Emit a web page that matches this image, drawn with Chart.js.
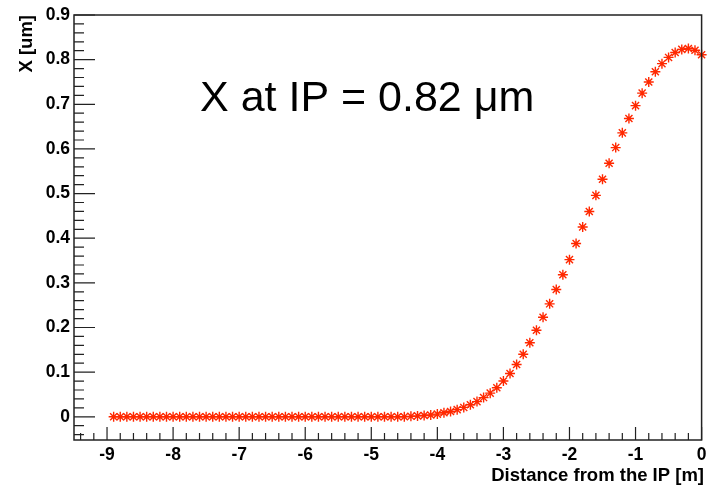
<!DOCTYPE html>
<html>
<head>
<meta charset="utf-8">
<script src="https://cdn.jsdelivr.net/npm/chart.js@4"></script>
<style>
  body { margin: 0; background: #fff; }
</style>
</head>
<body>
<canvas id="ip-x" width="708" height="487"></canvas>
<script>
// distance from the IP [m], one point every 0.1 m
const distances = [
  -8.9, -8.8, -8.7, -8.6, -8.5, -8.4, -8.3, -8.2, -8.1, -8.0,
  -7.9, -7.8, -7.7, -7.6, -7.5, -7.4, -7.3, -7.2, -7.1, -7.0,
  -6.9, -6.8, -6.7, -6.6, -6.5, -6.4, -6.3, -6.2, -6.1, -6.0,
  -5.9, -5.8, -5.7, -5.6, -5.5, -5.4, -5.3, -5.2, -5.1, -5.0,
  -4.9, -4.8, -4.7, -4.6, -4.5, -4.4, -4.3, -4.2, -4.1, -4.0,
  -3.9, -3.8, -3.7, -3.6, -3.5, -3.4, -3.3, -3.2, -3.1, -3.0,
  -2.9, -2.8, -2.7, -2.6, -2.5, -2.4, -2.3, -2.2, -2.1, -2.0,
  -1.9, -1.8, -1.7, -1.6, -1.5, -1.4, -1.3, -1.2, -1.1, -1.0,
  -0.9, -0.8, -0.7, -0.6, -0.5, -0.4, -0.3, -0.2, -0.1, 0.0
];
// X [um]
const xOffset = [
  0, 0, 0, 0, 0, 0, 0, 0, 0, 0,
  0, 0, 0, 0, 0, 0, 0, 0, 0, 0,
  0, 0, 0, 0, 0, 0, 0, 0, 0, 0,
  0, 0, 0, 0, 0, 0, 0, 0, 0, 0,
  0, 0, 0, 0, 0, 0.001, 0.002, 0.003, 0.004, 0.006,
  0.009, 0.012, 0.016, 0.021, 0.027, 0.034, 0.043, 0.053, 0.065, 0.080,
  0.097, 0.117, 0.140, 0.166, 0.194, 0.223, 0.253, 0.285, 0.318, 0.352,
  0.388, 0.425, 0.460, 0.496, 0.532, 0.568, 0.603, 0.636, 0.668, 0.697,
  0.725, 0.750, 0.773, 0.791, 0.805, 0.816, 0.823, 0.825, 0.821, 0.811
];

const xMajor = [-9, -8, -7, -6, -5, -4, -3, -2, -1, 0];
const xMinor = [-9.4, -9.2, -8.8, -8.6, -8.4, -8.2, -7.8, -7.6, -7.4, -7.2,
  -6.8, -6.6, -6.4, -6.2, -5.8, -5.6, -5.4, -5.2, -4.8, -4.6, -4.4, -4.2,
  -3.8, -3.6, -3.4, -3.2, -2.8, -2.6, -2.4, -2.2, -1.8, -1.6, -1.4, -1.2,
  -0.8, -0.6, -0.4, -0.2];
const yMajor = [0, 0.1, 0.2, 0.3, 0.4, 0.5, 0.6, 0.7, 0.8, 0.9];
const yMinor = [-0.04, -0.02, 0.02, 0.04, 0.06, 0.08, 0.12, 0.14, 0.16, 0.18,
  0.22, 0.24, 0.26, 0.28, 0.32, 0.34, 0.36, 0.38, 0.42, 0.44, 0.46, 0.48,
  0.52, 0.54, 0.56, 0.58, 0.62, 0.64, 0.66, 0.68, 0.72, 0.74, 0.76, 0.78,
  0.82, 0.84, 0.86, 0.88];

const labelFont = { family: 'Liberation Sans', size: 17.5, weight: 'bold' };

// ROOT style frame, inner ticks, axis titles and the note
const rootFrame = {
  id: 'rootFrame',
  afterDraw(chart) {
    const { ctx, chartArea: a, scales: { x, y } } = chart;
    ctx.save();
    ctx.strokeStyle = '#222';
    ctx.lineWidth = 1.5;
    ctx.strokeRect(a.left, a.top, a.right - a.left, a.bottom - a.top);
    ctx.lineWidth = 1.2;
    ctx.beginPath();
    xMajor.forEach(v => { const p = x.getPixelForValue(v); ctx.moveTo(p, a.bottom); ctx.lineTo(p, a.bottom - 13); });
    xMinor.forEach(v => { const p = x.getPixelForValue(v); ctx.moveTo(p, a.bottom); ctx.lineTo(p, a.bottom - 7); });
    yMajor.forEach(v => { const p = y.getPixelForValue(v); ctx.moveTo(a.left, p); ctx.lineTo(a.left + 21, p); });
    yMinor.forEach(v => { const p = y.getPixelForValue(v); ctx.moveTo(a.left, p); ctx.lineTo(a.left + 10, p); });
    ctx.stroke();

    ctx.fillStyle = '#000';
    ctx.font = 'bold 18.5px "Liberation Sans"';
    ctx.textAlign = 'right';
    ctx.textBaseline = 'alphabetic';
    ctx.fillText('Distance from the IP [m]', 704, 481);
    ctx.save();
    ctx.translate(32, 15);
    ctx.rotate(-Math.PI / 2);
    ctx.fillText('X [um]', 0, 0);
    ctx.restore();

    ctx.font = '43px "Liberation Sans"';
    ctx.textAlign = 'left';
    ctx.fillText('X at IP = 0.82 \u03BCm', 200, 111);
    ctx.restore();
  }
};

new Chart(document.getElementById('ip-x'), {
  type: 'scatter',
  data: {
    datasets: [{
      label: 'X [um]',
      data: distances.map((d, i) => ({ x: d, y: xOffset[i] })),
      pointStyle: 'star',
      pointRadius: 5,
      pointBorderWidth: 1.4,
      borderColor: 'rgb(255, 40, 0)',
      backgroundColor: 'rgb(255, 40, 0)',
      showLine: false,
      clip: false
    }]
  },
  options: {
    responsive: false,
    animation: false,
    devicePixelRatio: 1,
    layout: { padding: { top: 15, right: 2, left: 0, bottom: 0 } },
    plugins: { legend: { display: false }, tooltip: { enabled: false } },
    scales: {
      x: {
        type: 'linear',
        min: -9.5,
        max: 0,
        grid: { display: false, drawTicks: false },
        border: { display: false },
        afterBuildTicks: s => { s.ticks = xMajor.map(v => ({ value: v })); },
        afterFit: s => { s.height = 47; s.paddingLeft = 0; s.paddingRight = 0; },
        ticks: { color: '#000', font: labelFont, padding: 5, maxRotation: 0, callback: v => String(v) }
      },
      y: {
        type: 'linear',
        min: -0.052,
        max: 0.9,
        grid: { display: false, drawTicks: false },
        border: { display: false },
        afterBuildTicks: s => { s.ticks = yMajor.map(v => ({ value: v })); },
        afterFit: s => { s.width = 74; },
        ticks: { color: '#000', font: labelFont, padding: 4, callback: v => v === 0 ? '0' : v.toFixed(1) }
      }
    }
  },
  plugins: [rootFrame]
});
</script>
</body>
</html>
